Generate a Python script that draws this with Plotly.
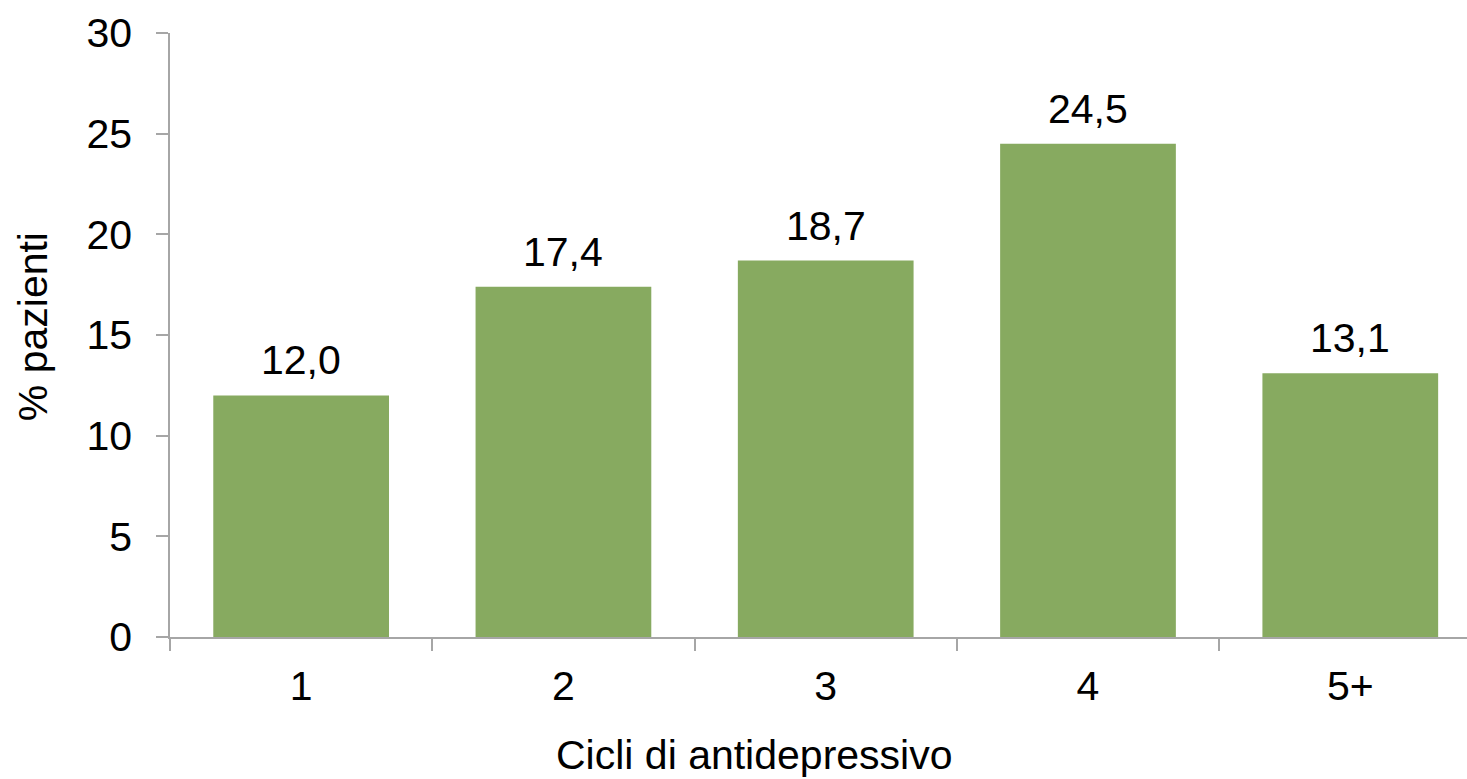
import plotly.graph_objects as go

categories = ["1", "2", "3", "4", "5+"]
percent_patients = [12.0, 17.4, 18.7, 24.5, 13.1]
y_ticks = [0, 5, 10, 15, 20, 25, 30]

BAR_COLOR = "#87AA60"
AXIS_COLOR = "#A6A6A6"
FONT = "Liberation Sans, Arial, sans-serif"
TEXT_FONT = dict(family=FONT, size=41, color="black")

fig = go.Figure(
    go.Bar(
        x=categories,
        y=percent_patients,
        marker=dict(color=BAR_COLOR, line=dict(width=0)),
        width=0.67,
        hoverinfo="skip",
    )
)

# value labels above each bar (x given as category index)
for i, val in enumerate(percent_patients):
    fig.add_annotation(
        x=i, y=val, text=f"{val:.1f}".replace(".", ","),
        showarrow=False, yanchor="bottom", yshift=10,
        font=TEXT_FONT,
    )

# axis titles
fig.add_annotation(
    xref="paper", yref="paper", x=0.451, y=-0.195,
    xanchor="center", yanchor="middle", showarrow=False,
    text="Cicli di antidepressivo", font=TEXT_FONT,
)
fig.add_annotation(
    xref="paper", yref="paper", x=-0.1056, y=0.513,
    xanchor="center", yanchor="middle", showarrow=False, textangle=-90,
    text="% pazienti", font=TEXT_FONT,
)

fig.update_layout(
    width=1467, height=779,
    margin=dict(l=170, r=0, t=33, b=142, pad=0),
    paper_bgcolor="white", plot_bgcolor="white",
    font=TEXT_FONT,
    showlegend=False,
    bargap=0.33,
)

fig.update_xaxes(
    type="category",
    range=[-0.5, 4.445],
    showline=True, linecolor=AXIS_COLOR, linewidth=1.5,
    ticks="outside", tickson="boundaries", ticklen=12, tickcolor=AXIS_COLOR, tickwidth=1.5,
    showgrid=False, zeroline=False,
    ticklabelstandoff=12,
)

fig.update_yaxes(
    range=[0, 30],
    tickvals=y_ticks,
    showline=True, linecolor=AXIS_COLOR, linewidth=1.5,
    ticks="outside", ticklen=12, tickcolor=AXIS_COLOR, tickwidth=1.5,
    showgrid=False, zeroline=False,
    ticklabelstandoff=16,
)

fig.write_html("out.html")
